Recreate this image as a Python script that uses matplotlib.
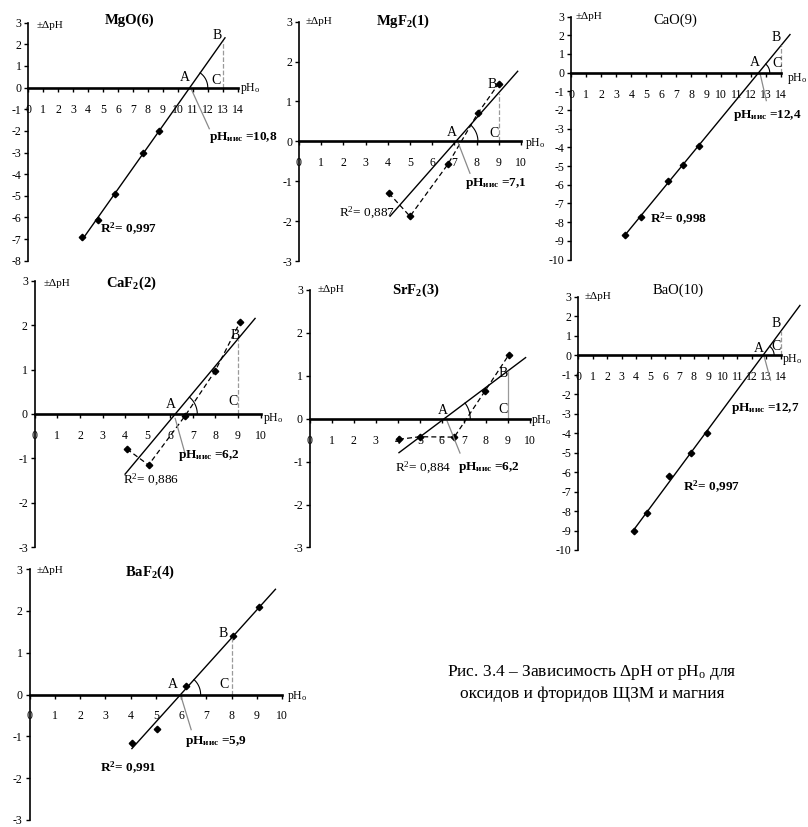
import numpy as np
import matplotlib
matplotlib.use('Agg')
import matplotlib.pyplot as plt

plt.rcParams['font.family'] = ['Liberation Serif', 'DejaVu Serif']
plt.rcParams['mathtext.fontset'] = 'custom'
plt.rcParams['mathtext.rm'] = 'Liberation Serif'
plt.rcParams['mathtext.it'] = 'Liberation Serif:italic'
plt.rcParams['mathtext.bf'] = 'Liberation Serif:bold'
plt.rcParams['mathtext.default'] = 'regular'
plt.rcParams['axes.unicode_minus'] = False

# ---------------- data ----------------
mgo_x = [3.6, 4.64, 5.82, 7.65, 8.72]
mgo_y = [-6.92, -6.14, -4.91, -3.03, -2.02]
mgf2_x = [4.05, 5.0, 6.7, 8.05, 9.0]
mgf2_y = [-1.3, -1.88, -0.58, 0.7, 1.45]
cao_x = [3.56, 4.62, 6.44, 7.44, 8.49]
cao_y = [-8.7, -7.75, -5.78, -4.97, -3.93]
caf2_x = [4.08, 5.04, 6.66, 7.99, 9.09]
caf2_y = [-0.79, -1.15, -0.04, 0.97, 2.07]
srf2_x = [4.05, 5.0, 6.56, 7.95, 9.04]
srf2_y = [-0.48, -0.42, -0.43, 0.64, 1.49]
bao_x = [3.87, 4.77, 6.29, 7.83, 8.87]
bao_y = [-9.01, -8.12, -6.19, -5.01, -4.02]
baf2_x = [4.05, 5.05, 6.2, 8.05, 9.1]
baf2_y = [-1.17, -0.82, 0.2, 1.4, 2.09]

titles = ['MgO(6)', 'MgF$_2$(1)', 'CaO(9)', 'CaF$_2$(2)', 'SrF$_2$(3)', 'BaO(10)', 'BaF$_2$(4)']
ph_values = ['10,8', '7,1', '12,4', '6,2', '6,2', '12,7', '5,9']
r2_values = ['0,997', '0,887', '0,998', '0,886', '0,884', '0,997', '0,991']
x_max = [14, 10, 14, 10, 10, 14, 10]
y_min = [-8, -3, -10, -3, -3, -10, -3]
caption = ['Рис. 3.4 – Зависимость ΔpH от pH$_\\mathregular{o}$ для',
           'оксидов и фторидов ЩЗМ и магния']

series_x = [mgo_x, mgf2_x, cao_x, caf2_x, srf2_x, bao_x, baf2_x]
series_y = [mgo_y, mgf2_y, cao_y, caf2_y, srf2_y, bao_y, baf2_y]

# ---------------- layout (pixels / positions) ----------------
W, H = 808, 827
layout = [
    dict(cal=(28.3, 237.7, 22.7, 260.7), trend=(3.6, 13.15), xc=13, vls='--', dashed=False, arc=18,
         A=(10.45, 0.46), B=(12.63, 2.42), C=(12.53, 0.34), lead=((10.93, -0.12), (12.1, -1.9)),
         ph=(12.1, -2.3), phb=True, r2=(4.8, -6.55), r2b=True, title=(6.77, 3.12), tb=True,
         dph=(0.56, 2.88), pho=(14.15, -0.05)),
    dict(cal=(299, 521, 21.7, 261), trend=(4.1, 9.85), xc=9, vls='--', dashed=True, arc=22,
         A=(6.9, 0.22), B=(8.72, 1.42), C=(8.77, 0.19), lead=((7.18, -0.05), (7.7, -0.8)),
         ph=(7.5, -1.05), phb=True, r2=(1.8, -1.8), r2b=False, title=(4.67, 3.0), tb=True,
         dph=(0.3, 3.0), pho=(10.2, -0.05)),
    dict(cal=(571.3, 781.3, 16.5, 259.5), trend=(3.56, 14.58), xc=14, vls='--', dashed=False, arc=11,
         A=(12.27, 0.53), B=(13.69, 1.87), C=(13.73, 0.5), lead=((12.6, -0.1), (13.0, -1.5)),
         ph=(10.75, -2.3), phb=True, r2=(5.25, -7.82), r2b=True, title=(6.96, 2.8), tb=False,
         dph=(0.25, 3.0), pho=(14.35, -0.3)),
    dict(cal=(34.8, 260.5, 281, 547), trend=(4.0, 9.76), xc=9, vls='--', dashed=True, arc=22,
         A=(6.04, 0.22), B=(8.87, 1.78), C=(8.8, 0.28), lead=((6.22, -0.1), (6.66, -0.9)),
         ph=(6.36, -0.94), phb=True, r2=(3.92, -1.49), r2b=False, title=(4.3, 2.94), tb=True,
         dph=(0.39, 2.94), pho=(10.12, -0.1)),
    dict(cal=(309.8, 530, 290, 547.4), trend=(4.05, 9.8), xc=9, vls='-', dashed=True, arc=26,
         A=(6.03, 0.2), B=(8.78, 1.06), C=(8.78, 0.22), lead=((6.24, -0.06), (6.82, -0.8)),
         ph=(6.74, -1.14), phb=True, r2=(3.87, -1.14), r2b=False, title=(4.8, 3.0), tb=True,
         dph=(0.35, 3.0), pho=(10.05, -0.05)),
    dict(cal=(578.3, 780.7, 296.7, 550), trend=(3.87, 15.33), xc=14, vls='--', dashed=False, arc=11,
         A=(12.47, 0.35), B=(13.72, 1.63), C=(13.67, 0.43), lead=((12.86, -0.08), (13.3, -1.28)),
         ph=(10.55, -2.73), phb=True, r2=(7.27, -6.76), r2b=True, title=(6.92, 3.35), tb=False,
         dph=(0.46, 3.0), pho=(14.1, -0.2)),
    dict(cal=(29.7, 282, 569, 820), trend=(4.05, 9.74), xc=8, vls='--', dashed=False, arc=20,
         A=(5.68, 0.23), B=(7.68, 1.47), C=(7.72, 0.23), lead=((6.0, -0.05), (6.4, -0.84)),
         ph=(6.14, -1.12), phb=True, r2=(2.78, -1.75), r2b=True, title=(4.75, 2.92), tb=True,
         dph=(0.28, 2.97), pho=(10.2, -0.05)),
]

fig = plt.figure(figsize=(W / 100, H / 100), dpi=100)
fig.patch.set_facecolor('white')


def draw_panel(i):
    x = np.array(series_x[i], dtype=float)
    y = np.array(series_y[i], dtype=float)
    xmax, ymin = x_max[i], y_min[i]
    L = layout[i]
    px0, pxm, py3, pym = L['cal']
    ux = (pxm - px0) / xmax
    uy = (pym - py3) / (3 - ymin)
    xl = (-1.0, xmax + 2.2)
    yl = (ymin - 0.6, 3.6)
    left = px0 + xl[0] * ux
    right = px0 + xl[1] * ux
    top = py3 - (yl[1] - 3) * uy
    bottom = py3 + (3 - yl[0]) * uy
    ax = fig.add_axes([left / W, 1 - bottom / H, (right - left) / W, (bottom - top) / H])
    ax.set_xlim(xl)
    ax.set_ylim(yl)
    ax.patch.set_visible(False)
    for s in ['top', 'right']:
        ax.spines[s].set_visible(False)
    ax.spines['left'].set_position(('data', 0))
    ax.spines['left'].set_bounds(ymin, 3)
    ax.spines['left'].set_linewidth(1.2)
    ax.spines['bottom'].set_position(('data', 0))
    ax.spines['bottom'].set_bounds(0, xmax)
    ax.spines['bottom'].set_linewidth(1.9)
    ax.set_xticks(range(0, xmax + 1))
    ax.set_yticks(range(ymin, 4))
    ax.tick_params(axis='x', direction='out', length=3, width=1, pad=8.5, labelsize=8.5)
    ax.tick_params(axis='y', direction='out', length=3, width=1, pad=2, labelsize=8.5)

    a, b = np.polyfit(x, y, 1)
    xx = np.array(L['trend'])
    ax.plot(xx, a * xx + b, color='k', lw=1.0, clip_on=False)
    if L['dashed']:
        ax.plot(x, y, color='k', lw=0.9, ls='--', dashes=(4, 2.5), clip_on=False)
    ax.plot(x, y, 'D', color='k', ms=3.3, clip_on=False)

    xA = -b / a
    xc = L['xc']
    ax.plot([xc, xc], [0, a * xc + b], color='#9a9a9a', lw=0.9, ls=L['vls'])

    # angle arc at A (drawn circular in pixel space)
    r = L['arc']
    phi = np.arctan(a * uy / ux)
    t = np.linspace(0, phi, 40)
    ax.plot(xA + r * np.cos(t) / ux, r * np.sin(t) / uy, color='k', lw=0.8)

    (lx0, ly0), (lx1, ly1) = L['lead']
    ax.plot([lx0, lx1], [ly0, ly1], color='#8a8a8a', lw=0.9)

    for key in ['A', 'B', 'C']:
        ax.text(*L[key], key, fontsize=10, ha='center', va='center')

    ax.text(*L['ph'], 'pH$_{иис}$ =' + ph_values[i], fontsize=9.5, ha='left', va='center',
            fontweight='bold' if L['phb'] else 'normal')
    ax.text(*L['r2'], 'R$^{2}$= ' + r2_values[i], fontsize=9.5, ha='left', va='center',
            fontweight='bold' if L['r2b'] else 'normal')
    ax.text(*L['title'], titles[i], fontsize=10.5, ha='center', va='center',
            fontweight='bold' if L['tb'] else 'normal')
    ax.text(*L['dph'], '±ΔpH', fontsize=8, ha='left', va='center')
    ax.text(*L['pho'], 'pH$_o$', fontsize=8.5, ha='left', va='center')


for i in range(7):
    draw_panel(i)

fig.text(592 / W, 1 - 672 / H, caption[0], fontsize=12.5, ha='center', va='center')
fig.text(592 / W, 1 - 694 / H, caption[1], fontsize=12.5, ha='center', va='center')

fig.savefig('out.png', dpi=100)
